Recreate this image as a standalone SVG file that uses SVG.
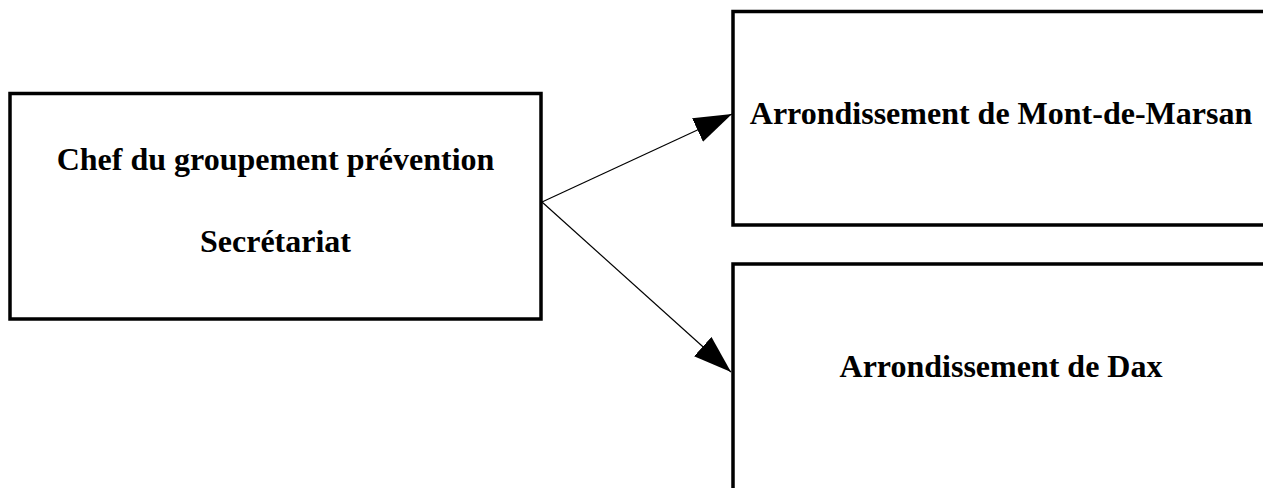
<svg xmlns="http://www.w3.org/2000/svg" width="1263" height="488" viewBox="0 0 1263 488">
  <style>
    .box { fill: #ffffff; stroke: #000000; stroke-width: 3.5; }
    .lbl { font-family: "Liberation Serif", "Times New Roman", serif; font-weight: bold; font-size: 32px; fill: #000000; text-anchor: middle; }
    .conn { stroke: #000000; stroke-width: 1.2; fill: none; marker-end: url(#arrow); }
  </style>
  <defs>
    <marker id="arrow" markerUnits="userSpaceOnUse" markerWidth="40" markerHeight="28" refX="38" refY="13" orient="auto" viewBox="0 0 40 28">
      <path d="M0,0 L38,13 L0,26 Z" fill="#000000"/>
    </marker>
  </defs>
  <rect width="1263" height="488" fill="#ffffff"/>
  <g id="node-chef">
    <rect class="box" x="10" y="93.5" width="531" height="225.5"/>
    <text class="lbl" x="275.5" y="170">Chef du groupement prévention</text>
    <text class="lbl" x="275.5" y="252">Secrétariat</text>
  </g>
  <g id="node-montdemarsan">
    <rect class="box" x="733" y="11.5" width="536" height="213.5"/>
    <text class="lbl" x="1001" y="123.5">Arrondissement de Mont-de-Marsan</text>
  </g>
  <g id="node-dax">
    <rect class="box" x="733" y="264" width="536" height="240"/>
    <text class="lbl" x="1001" y="376.5">Arrondissement de Dax</text>
  </g>
  <g id="connectors">
    <line class="conn" x1="542" y1="202" x2="732" y2="114"/>
    <line class="conn" x1="542" y1="202" x2="731" y2="372"/>
  </g>
</svg>
